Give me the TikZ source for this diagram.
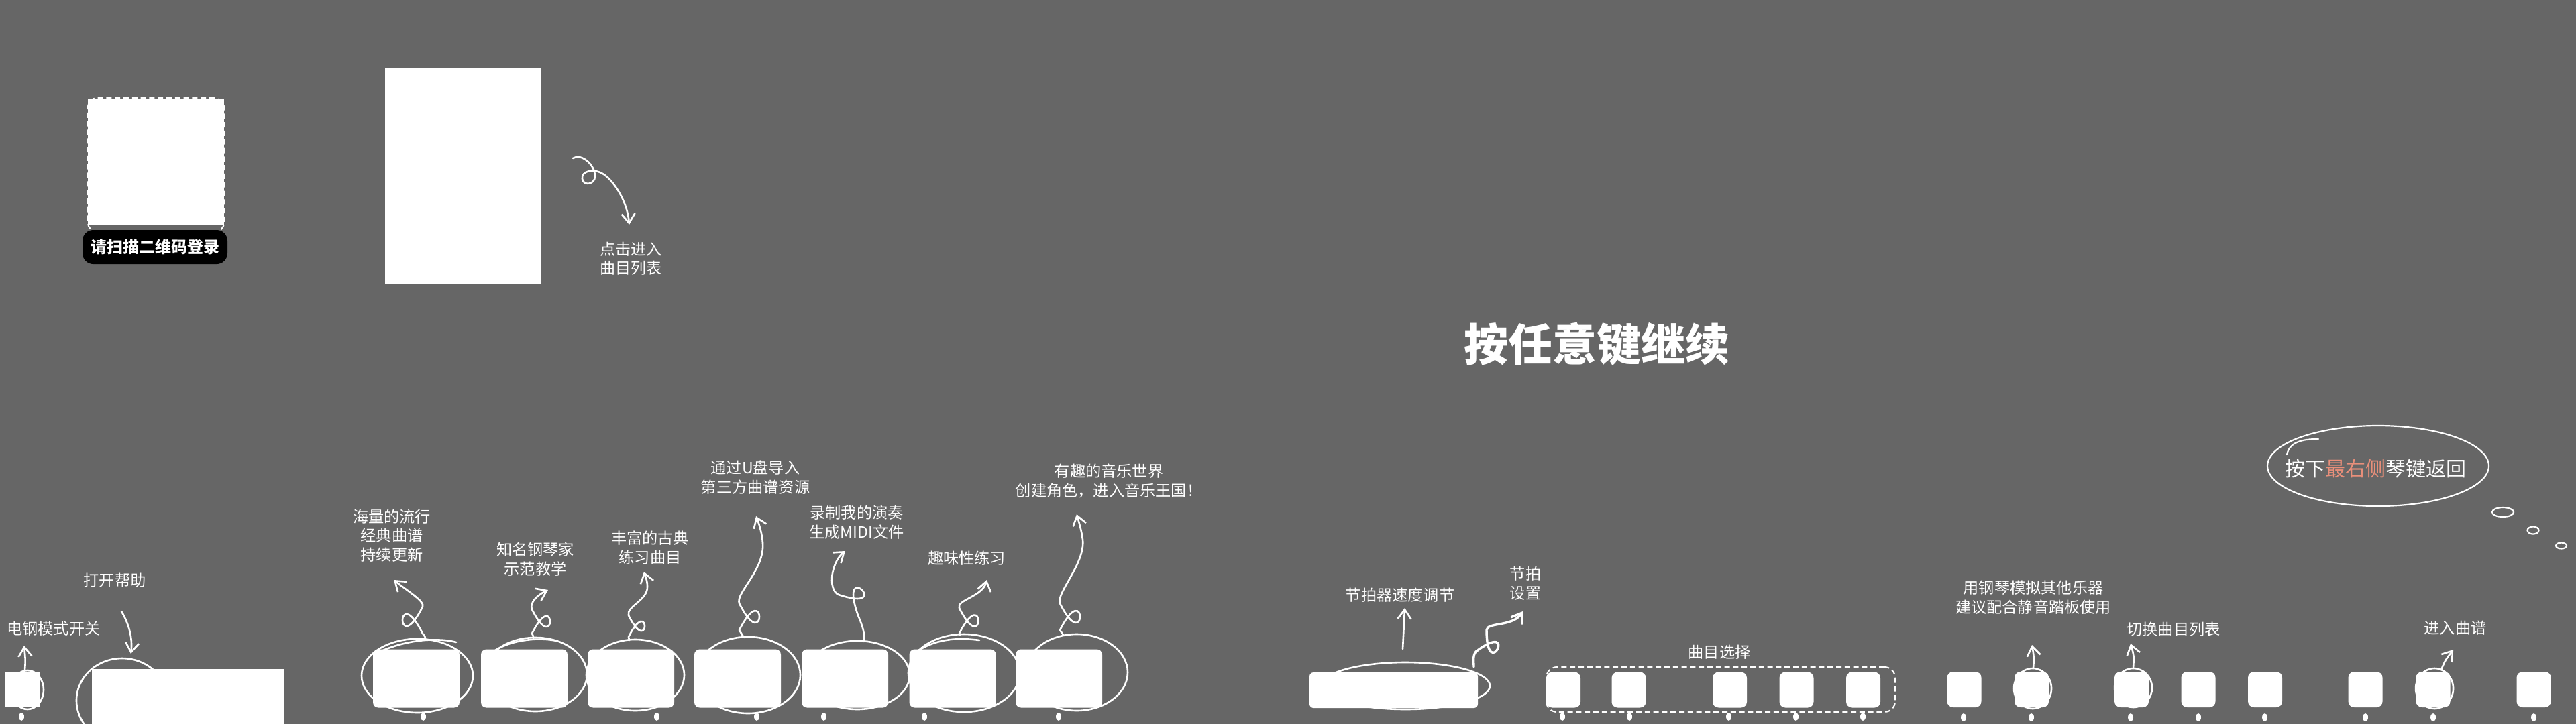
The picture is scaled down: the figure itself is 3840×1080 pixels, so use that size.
\documentclass[tikz,border=0pt]{standalone}
\usepackage{fontspec}
\newfontfamily\cjk{Noto Sans CJK SC}
\usetikzlibrary{arrows.meta,shapes.geometric}
\definecolor{bg}{RGB}{102,102,102}
\definecolor{salmon}{RGB}{233,143,122}
\newdimen\px \px=0.25pt
\tikzset{
  stroke/.style={draw=white, line width=2.6\px, line cap=round, line join=round},
  arr/.style={stroke, -{Straight Barb[length=3.5pt,width=5pt]}},
  ring/.style={ellipse, draw=white, line width=2.6\px, inner sep=0pt},
  card/.style={fill=white, rounded corners=2pt, inner sep=0pt, minimum width=129\px, minimum height=87\px},
  pkey/.style={fill=white, rounded corners=2.2pt, inner sep=0pt, minimum width=51\px, minimum height=53\px},
  kdot/.style={fill=white, ellipse, inner sep=0pt, minimum width=8\px, minimum height=12\px},
  note/.style={text=white, align=center, inner sep=0pt, font=\cjk\fontsize{5.8pt}{7.2pt}\selectfont},
  block/.style={fill=white, inner sep=0pt},
}
\begin{document}
\begin{tikzpicture}[x=0.25pt,y=-0.25pt]
\fill[bg] (0,0) rectangle (3840,1080);
\useasboundingbox (0,0) rectangle (3840,1080);

% ---------- login ----------
\node[block, minimum width=203\px, minimum height=188\px] (qr) at (232.5,241) {};
\node[draw=white, line width=2\px, dash pattern=on 2pt off 1.2pt, rounded corners=3.5pt, inner sep=0pt,
      minimum width=203\px, minimum height=200\px] (qrframe) at (232.5,246) {};
\node[fill=black, rounded corners=4pt, minimum width=216\px, minimum height=51\px, inner sep=0pt,
      text=white, font=\cjk\bfseries\fontsize{6pt}{7pt}\selectfont] (login) at (231,368.5) {请扫描二维码登录};

\node[block, minimum width=232\px, minimum height=323\px] (screen) at (690,262.5) {};
\node[note, font=\cjk\fontsize{5.75pt}{7pt}\selectfont] (enter) at (940,386) {点击进入\\曲目列表};
\coordinate (ls) at (854,236);
\coordinate (le) at (938,335);
\draw[arr] (ls) .. controls (866,228) and (887,245) .. (887,263)
  .. controls (887,275) and (870,278) .. (868,267)
  .. controls (866,255) and (885,250) .. (900,260)
  .. controls (915,270) and (935,300) .. (le);

% ---------- title ----------
\node[text=white, inner sep=0pt, font=\cjk\bfseries\fontsize{16.5pt}{20pt}\selectfont] (cont) at (2380,513) {按任意键继续};

% ---------- e-piano switch & help ----------
\node[ring, minimum width=48\px, minimum height=58\px] (ering) at (41,1029) {};
\node[block, minimum width=52\px, minimum height=52\px] (ekey) at (34,1029) {};
\node[kdot] (d0) at (32,1069) {};
\node[note] (tswitch) at (80,938) {电钢模式开关};
\coordinate (es) at (37,1000);
\coordinate (ee) at (36,963);
\draw[arr] (es) .. controls (38,985) .. (ee);

\node[ring, minimum width=136\px, minimum height=126\px] (hring) at (182,1045) {};
\node[block, minimum width=286\px, minimum height=83\px, anchor=north west] (help) at (136,997) {};
\node[note] (thelp) at (171,866) {打开帮助};
\coordinate (hs) at (181,912);
\coordinate (he) at (195,975);
\draw[arr] (hs) .. controls (192,930) and (198,952) .. (he);

% ---------- feature cards ----------
\node[ring, minimum width=166\px, minimum height=110\px] (r1) at (622,1008) {};
\node[ring, minimum width=154\px, minimum height=110\px] (r2) at (798,1006) {};
\node[ring, minimum width=146\px, minimum height=106\px] (r3) at (947,1007) {};
\node[ring, minimum width=156\px, minimum height=114\px] (r4) at (1115,1007) {};
\node[ring, minimum width=156\px, minimum height=102\px] (r5) at (1278,1007) {};
\node[ring, minimum width=166\px, minimum height=116\px] (r6) at (1437,1004) {};
\node[ring, minimum width=152\px, minimum height=114\px] (r7) at (1605,1003) {};
% second sketch strokes
\draw[stroke] (560,975) .. controls (600,955) and (650,950) .. (680,958);
\draw[stroke] (735,972) .. controls (760,955) and (800,950) .. (830,956);
\draw[stroke] (1362,975) .. controls (1390,955) and (1420,950) .. (1460,955);

\node[card] (k1) at (620.5,1012) {};
\node[card] (k2) at (781.5,1012) {};
\node[card] (k3) at (940.5,1012) {};
\node[card] (k4) at (1099.5,1012) {};
\node[card] (k5) at (1259.5,1012) {};
\node[card] (k6) at (1420,1012) {};
\node[card] (k7) at (1578.5,1012) {};

\foreach \i/\x in {1/631,2/979,3/1128,4/1228,5/1378,6/1578}
  \node[kdot] (fd\i) at (\x,1069) {};

\node[note] (t1) at (584,799) {海量的流行\\经典曲谱\\持续更新};
\node[note] (t2) at (798,834) {知名钢琴家\\示范教学};
\node[note] (t3) at (969,817) {丰富的古典\\练习曲目};
\node[note] (t4) at (1126,712) {通过U盘导入\\第三方曲谱资源};
\node[note] (t5) at (1277,779) {录制我的演奏\\生成MIDI文件};
\node[note] (t6) at (1441,833) {趣味性练习};
\node[note] (t7) at (1653,717) {有趣的音乐世界\\创建角色，进入音乐王国！};

\coordinate (s1) at (634,954);  \coordinate (e1) at (587,865);
\coordinate (s2) at (795,952);  \coordinate (e2) at (817,880);
\coordinate (s3) at (938,955);  \coordinate (e3) at (960,853);
\coordinate (s4) at (1109,951); \coordinate (e4) at (1127,770);
\coordinate (s5) at (1288,957); \coordinate (e5) at (1260,822);
\coordinate (s6) at (1431,947); \coordinate (e6) at (1471,865);
\coordinate (s7) at (1585,947); \coordinate (e7) at (1605,767);

\draw[arr] (s1) .. controls (634,950) .. (630,945)
  .. controls (590,865) and (590,985) .. (630,905)
  .. controls (634,897) and (605,880) .. (e1);
\draw[arr] (s2) .. controls (795,949) .. (793,945)
  .. controls (829,873) and (829,981) .. (793,909)
  .. controls (789,900) and (800,888) .. (e2);
\draw[arr] (s3) .. controls (938,953) .. (937,950)
  .. controls (969,886) and (969,982) .. (937,918)
  .. controls (933,905) and (966,895) .. (965,875)
  .. controls (965,866) and (962,860) .. (e3);
\draw[arr] (s4) .. controls (1105,946) .. (1102,940)
  .. controls (1142,860) and (1142,980) .. (1102,900)
  .. controls (1096,885) and (1140,850) .. (1137,810)
  .. controls (1136,795) and (1131,780) .. (e4);
\draw[arr] (s5) .. controls (1290,940) and (1281,924) .. (1278,915)
  .. controls (1250,831) and (1334,915) .. (1250,887)
  .. controls (1242,884) and (1238,870) .. (1241,855)
  .. controls (1244,840) and (1250,830) .. (e5);
\draw[arr] (s6) .. controls (1431,946) .. (1430,945)
  .. controls (1468,869) and (1468,983) .. (1430,907)
  .. controls (1425,895) and (1465,890) .. (e6);
\draw[arr] (s7) .. controls (1583,944) .. (1580,940)
  .. controls (1620,860) and (1620,980) .. (1580,900)
  .. controls (1574,885) and (1618,840) .. (1614,805)
  .. controls (1612,790) and (1608,778) .. (e7);

% ---------- metronome ----------
\node[ring, minimum width=252\px, minimum height=70\px] (mring) at (2095,1023) {};
\node[block, rounded corners=1.5pt, minimum width=251\px, minimum height=53\px] (metro) at (2077.5,1029.5) {};
\node[note] (tspeed) at (2087,888) {节拍器速度调节};
\node[note] (tbeat) at (2274,870) {节拍\\设置};
\coordinate (ms) at (2091,968); \coordinate (me) at (2094,907);
\draw[arr] (ms) .. controls (2093,940) .. (me);
\coordinate (bs) at (2197,995); \coordinate (be) at (2270,912);
\draw[stroke, line width=3.4\px, -{Straight Barb[length=3.5pt,width=5pt]}] (bs) .. controls (2197,988) and (2195,978) .. (2200,972)
  .. controls (2265,923) and (2216,1021) .. (2216,940)
  .. controls (2216,928) and (2255,935) .. (be);

% ---------- song selection ----------
\node[draw=white, line width=2\px, dash pattern=on 2pt off 1.2pt, rounded corners=4pt, inner sep=0pt,
      minimum width=520\px, minimum height=67\px] (sel) at (2565,1028.5) {};
\node[note] (tsel) at (2563,973) {曲目选择};
\foreach \i/\x/\d in {1/2330.5/2329,2/2428/2429,3/2578.5/2577,4/2678/2677,5/2777.5/2777}{
  \node[pkey] (sk\i) at (\x,1029) {};
  \node[kdot] (sd\i) at (\d,1069) {};
}

% ---------- right keys ----------
\node[ring, minimum width=56\px, minimum height=60\px] (q2) at (3030,1027) {};
\node[ring, minimum width=56\px, minimum height=58\px] (q3) at (3180,1026) {};
\node[ring, minimum width=56\px, minimum height=60\px] (q7) at (3629,1027) {};
\foreach \i/\x/\d in {1/2928/2927,2/3028.5/3028,3/3177.5/3176,4/3277/3277,5/3376.5/3376,6/3526/3526,7/3627/3627,8/3777/3777}{
  \node[pkey] (rk\i) at (\x,1028.5) {};
  \node[kdot] (rd\i) at (\d,1070) {};
}
\node[note] (tinst) at (3031,891) {用钢琴模拟其他乐器\\建议配合静音踏板使用};
\node[note] (tswap) at (3240,939) {切换曲目列表};
\node[note] (tscore) at (3660,937) {进入曲谱};
\coordinate (a2s) at (3031,997); \coordinate (a2e) at (3029,962);
\coordinate (a3s) at (3180,997); \coordinate (a3e) at (3176,960);
\coordinate (a7s) at (3639,999); \coordinate (a7e) at (3657,969);
\draw[arr] (a2s) .. controls (3032,980) .. (a2e);
\draw[arr] (a3s) .. controls (3181,978) .. (a3e);
\draw[arr] (a7s) .. controls (3645,985) .. (a7e);

% ---------- thought bubble ----------
\node[ring, line width=2.2\px, minimum width=330\px, minimum height=120\px] (bubble) at (3545,695) {};
\draw[stroke, line width=2.2\px] (3409,678) .. controls (3413,660) and (3430,655) .. (3456,655);
\node[text=white, inner sep=0pt, font=\cjk\fontsize{7.5pt}{9pt}\selectfont] (tback) at (3541,699)
  {按下\textcolor{salmon}{最右侧}琴键返回};
\node[ring, line width=2.2\px, minimum width=32\px, minimum height=14\px] (b1) at (3731,764) {};
\node[ring, line width=2.2\px, minimum width=17\px, minimum height=11\px] (b2) at (3776,791) {};
\node[ring, line width=2.2\px, minimum width=16\px, minimum height=9\px] (b3) at (3818,814) {};
\end{tikzpicture}
\end{document}
